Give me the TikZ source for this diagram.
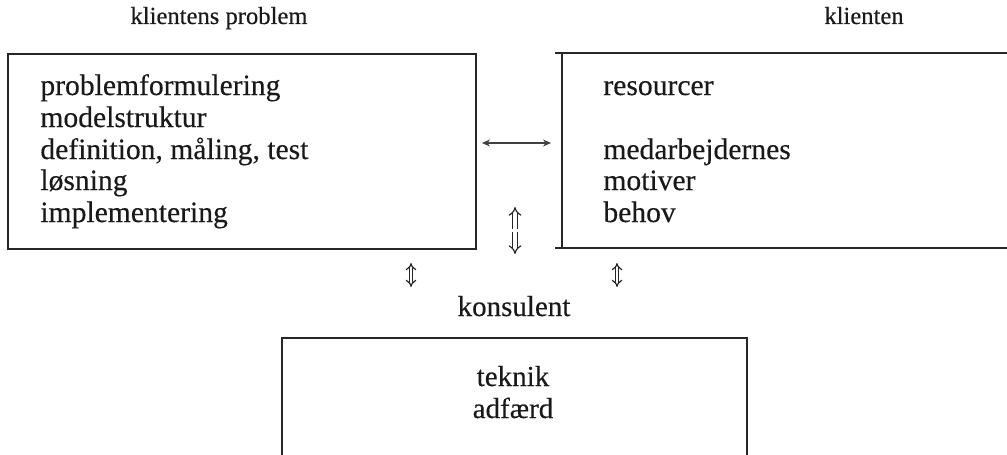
\documentclass[tikz,border=0pt]{standalone}
\usepackage{fontspec}
\setmainfont{Liberation Serif}[FakeBold=0.3]
\usetikzlibrary{arrows.meta}
\begin{document}
\begin{tikzpicture}[x=0.5pt,y=-0.5pt,
  boxline/.style={draw=black!85, line width=1pt},
  txt/.style={anchor=base west, inner sep=0pt, font=\fontsize{14.8pt}{16pt}\selectfont, text=black!90},
  ctxt/.style={anchor=base, inner sep=0pt, font=\fontsize{14.5pt}{16pt}\selectfont, text=black!90},
  ttl/.style={anchor=base, inner sep=0pt, font=\fontsize{12.3pt}{14pt}\selectfont, text=black!90},
  dbl/.style={draw=black!85, double, double distance=1.6pt, line width=0.6pt, -{Implies}},
  smalldbl/.style={draw=black!85, double, double distance=1.2pt, line width=0.6pt, {Implies}-{Implies}},
  thin/.style={draw=black!75, line width=0.6pt, {Stealth[length=4pt,width=3.5pt]}-{Stealth[length=4pt,width=3.5pt]}}]
\useasboundingbox (0,0) rectangle (1007,455);
\clip (0,0) rectangle (1007,455);
% titles
\node[ttl] (t1) at (219,24) {klientens problem};
\node[ttl] (t2) at (864,24) {klienten};
\node[ctxt] (t3) at (514,316) {konsulent};
% boxes
\node[boxline, minimum width=468pt*0.5, minimum height=195pt*0.5, anchor=north west, inner sep=0pt] (lbox) at (7,53) {};
\draw[boxline] (555,53) -- (1030,53) (562,53) -- (562,248) (555,248) -- (1030,248);
\draw[boxline] (282,338) rectangle (747,480);
% left box text
\node[txt] (l1) at (40,95) {problemformulering};
\node[txt] (l2) at (40,127) {modelstruktur};
\node[txt] (l3) at (40,159) {definition, måling, test};
\node[txt] (l4) at (40,190) {løsning};
\node[txt] (l5) at (40,222) {implementering};
% right box text
\node[txt] (r1) at (603,95) {resourcer};
\node[txt] (r2) at (603,159) {medarbejdernes};
\node[txt] (r3) at (603,190) {motiver};
\node[txt] (r4) at (603,222) {behov};
% bottom box text
\node[ctxt] (b1) at (513,386) {teknik};
\node[ctxt] (b2) at (513,418) {adfærd};
% arrows
\coordinate (ha) at (482,143);
\coordinate (hb) at (551,143);
\draw[thin] (ha) -- (hb);
\coordinate (ua) at (515,229);
\coordinate (ub) at (515,207);
\draw[dbl] (ua) -- (ub);
\coordinate (da) at (515,232);
\coordinate (db) at (515,254);
\draw[dbl] (da) -- (db);
\coordinate (sa1) at (411,263);
\coordinate (sb1) at (411,287);
\draw[smalldbl] (sa1) -- (sb1);
\coordinate (sa2) at (617,263);
\coordinate (sb2) at (617,287);
\draw[smalldbl] (sa2) -- (sb2);
\end{tikzpicture}
\end{document}
